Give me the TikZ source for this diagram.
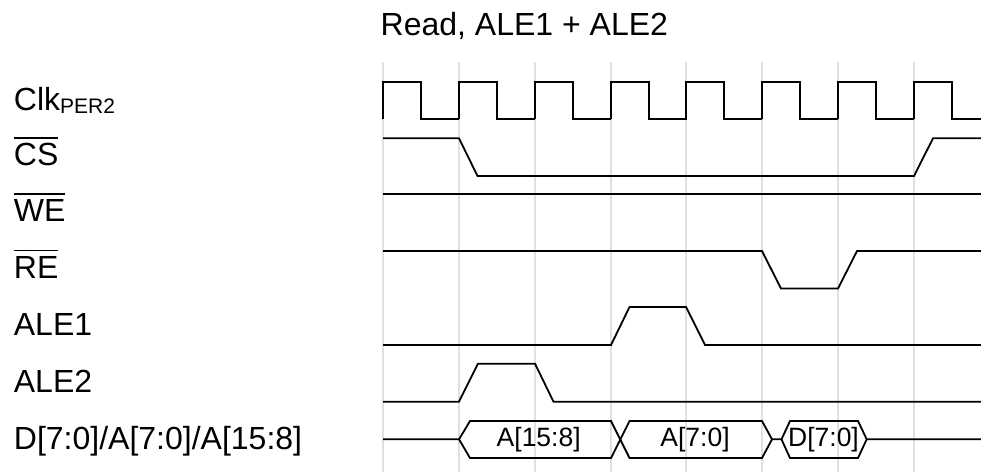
\documentclass[tikz,border=0pt]{standalone}
\usepackage{fontspec}
\setmainfont{Liberation Sans}
\usetikzlibrary{positioning,calc}
\newcommand{\barlabel}[1]{\leavevmode\setbox0=\hbox{#1}\rlap{\rule[27.2pt]{\wd0}{1.5pt}}\box0}
\newcommand{\lowsub}[1]{\raisebox{-3pt}{\fontsize{21}{25}\selectfont #1}}
\tikzset{
  signame/.style={anchor=base west,inner sep=0pt,font=\fontsize{32}{38}\selectfont},
  buslabel/.style={anchor=base,inner sep=0pt,font=\fontsize{26.5}{31}\selectfont},
  wave/.style={line width=1.8pt,line join=miter},
  gridline/.style={line width=1.6pt,color=black!12}
}
\begin{document}
\begin{tikzpicture}[x=1pt,y=-1pt]
\useasboundingbox (0,0) rectangle (981,472);
% cycle boundaries
\foreach \gx in {383,459,535,611,686,762,838,914}
  \draw[gridline] (\gx,62) -- (\gx,472);
% clock
\foreach \ck in {383,459,535,611,686,762,838}
  \draw[wave] (\ck,119.3) -- (\ck,81.7) -- ({\ck+38},81.7) -- ({\ck+38},119.3) -- ({\ck+76},119.3);
\draw[wave] (914,119.3) -- (914,81.7) -- (952,81.7) -- (952,119.3) -- (981,119.3);
% control lines
\draw[wave] (383,138.3) -- (459,138.3) -- (477.5,176) -- (914,176) -- (933,138.3) -- (981,138.3);
\draw[wave] (383,194.3) -- (981,194.3);
\draw[wave] (383,251) -- (762,251) -- (781,288.5) -- (838,288.5) -- (857,251) -- (981,251);
\draw[wave] (383,345) -- (611,345) -- (629.5,307) -- (686,307) -- (705,345) -- (981,345);
\draw[wave] (383,401.7) -- (459,401.7) -- (478,363.7) -- (535,363.7) -- (553.5,401.7) -- (981,401.7);
% bus
\draw[wave] (383,439.3) -- (459,439.3) -- (470,421) -- (611,421) -- (629.5,458) -- (762,458) -- (772,439.3)
  -- (781.5,439.3) -- (790,421) -- (858,421) -- (866.7,439.3) -- (981,439.3);
\draw[wave] (459,439.3) -- (470,458) -- (611,458) -- (629.5,421) -- (762,421) -- (772,439.3);
\draw[wave] (781.5,439.3) -- (790,458) -- (858,458) -- (866.7,439.3);
\node[buslabel] (busa) at (538.7,446.7) {A[15:8]};
\node[buslabel] (busb) at (695,446.7) {A[7:0]};
\node[buslabel] (busd) at (823.5,446.7) {D[7:0]};
% names
\node[signame] (title) at (380.5,35) {Read, ALE1 + ALE2};
\node[signame] (clk) at (13.7,110) {Clk\lowsub{PER2}};
\node[signame] (cs) at (13.7,165.7) {\barlabel{CS}};
\node[signame] (we) at (13.7,221.7) {\barlabel{WE}};
\node[signame] (re) at (13.7,278.3) {\barlabel{RE}};
\node[signame] (alea) at (13.7,335) {ALE1};
\node[signame] (aleb) at (13.7,392.7) {ALE2};
\node[signame] (data) at (13.7,449) {D[7:0]/A[7:0]/A[15:8]};
\end{tikzpicture}
\end{document}
